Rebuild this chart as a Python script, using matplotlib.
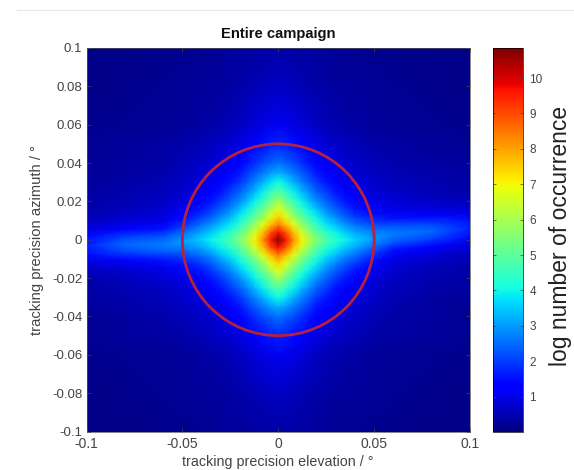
import numpy as np
import matplotlib
matplotlib.use("Agg")
import matplotlib.pyplot as plt
from matplotlib.patches import Circle
from matplotlib.lines import Line2D

plt.rcParams['font.family'] = ['Liberation Sans', 'DejaVu Sans']

title = "Entire campaign"
xlabel = "tracking precision elevation / °"
ylabel = "tracking precision azimuth / °"
cbar_label = "log number of occurrence"
xticks = [-0.1, -0.05, 0, 0.05, 0.1]
xticklabels = ["-0.1", "-0.05", "0", "0.05", "0.1"]
yticks = [-0.1, -0.08, -0.06, -0.04, -0.02, 0, 0.02, 0.04, 0.06, 0.08, 0.1]
yticklabels = ["-0.1", "-0.08", "-0.06", "-0.04", "-0.02", "0", "0.02", "0.04", "0.06", "0.08", "0.1"]
cbar_ticks = [1, 2, 3, 4, 5, 6, 7, 8, 9, 10]
circle_radius = 0.05
vmin, vmax = 0, 10.85

# distances from the centre at which the picture was read
offsets = [0, .004, .008, .012, .016, .02, .025, .03, .035, .04, .05, .06, .08, .1]
# log count, one quadrant: rows |azimuth|, columns |elevation|
row_00 = [10.85, 9.6, 8.2, 7.1, 6.2, 5.5, 4.8, 4.3, 3.95, 3.6, 3.0, 2.7, 2.5, 1.7]
row_01 = [9.7, 8.9, 7.65, 6.6, 5.7, 5.0, 4.4, 3.9, 3.5, 3.15, 2.6, 2.3, 2.05, 1.5]
row_02 = [8.4, 7.65, 6.7, 5.8, 5.05, 4.45, 3.85, 3.35, 2.9, 2.55, 1.95, 1.55, 1.3, .95]
row_03 = [7.5, 6.7, 5.8, 5.1, 4.45, 3.9, 3.3, 2.8, 2.35, 2.0, 1.45, 1.05, .85, .65]
row_04 = [6.7, 5.95, 5.15, 4.5, 3.9, 3.4, 2.8, 2.35, 1.95, 1.6, 1.15, .85, .65, .5]
row_05 = [5.9, 5.2, 4.55, 3.95, 3.4, 2.9, 2.4, 1.95, 1.6, 1.3, .95, .75, .55, .42]
row_06 = [4.9, 4.5, 3.9, 3.35, 2.85, 2.4, 2.0, 1.6, 1.35, 1.1, .8, .62, .48, .38]
row_07 = [4.1, 3.75, 3.25, 2.8, 2.35, 1.95, 1.6, 1.35, 1.1, .95, .7, .55, .42, .32]
row_08 = [3.2, 3.0, 2.65, 2.3, 1.95, 1.6, 1.35, 1.1, .95, .8, .6, .48, .36, .28]
row_09 = [2.6, 2.4, 2.2, 1.9, 1.6, 1.3, 1.1, .95, .8, .7, .52, .42, .32, .25]
row_10 = [1.7, 1.62, 1.48, 1.3, 1.1, .95, .8, .7, .6, .52, .42, .34, .27, .2]
row_11 = [1.1, 1.05, .95, .85, .75, .65, .55, .45, .4, .35, .28, .24, .18, .14]
row_12 = [.65, .62, .58, .52, .46, .4, .35, .3, .28, .26, .22, .18, .14, .11]
row_13 = [.4, .38, .36, .33, .3, .28, .26, .24, .2, .18, .16, .14, .11, .09]
quadrant = np.array([row_00, row_01, row_02, row_03, row_04, row_05, row_06,
                     row_07, row_08, row_09, row_10, row_11, row_12, row_13])
# the horizontal band is slightly tilted: its centre at each elevation
band_elevation = [-.1, -.08, -.06, -.05, -.04, 0, .04, .05, .06, .08, .1]
band_centre = [-.003, -.0025, -.0025, -.001, 0, 0, 0, .001, .003, .0045, .006]

o = np.array(offsets)
axis = np.concatenate([-o[:0:-1], o])
top = np.hstack([quadrant[:, :0:-1], quadrant])
Z = np.vstack([top[:0:-1], top])
X, Y = np.meshgrid(axis, axis)
near = np.abs(Y) <= 0.04
Y = Y + near * np.interp(X, band_elevation, band_centre)

fig = plt.figure(figsize=(5.74, 4.7), dpi=100)
W, H = 574, 470
ax = fig.add_axes([86.5 / W, (H - 431.5) / H, 383.5 / W, 383.5 / H])
mesh = ax.pcolormesh(X, Y, Z, cmap='jet', vmin=vmin, vmax=vmax, shading='gouraud', rasterized=True)
ax.add_patch(Circle((0, 0), circle_radius, fill=False, ec='#b8203f', lw=2.0))
ax.set_xlim(-0.1, 0.1)
ax.set_ylim(-0.1, 0.1)
ax.set_xticks(xticks, xticklabels)
ax.set_yticks(yticks, yticklabels)
gray = '#444444'
ax.tick_params(direction='in', length=3, width=0.5, colors=gray, top=True, right=True)
ax.tick_params(axis='x', labelsize=10, pad=4)
ax.tick_params(axis='y', labelsize=9.5, pad=3)
for s in ax.spines.values():
    s.set_linewidth(0.5)
    s.set_color('#555555')
ax.set_title(title, fontsize=10.6, fontweight='bold', pad=7, color='#111111')
ax.set_xlabel(xlabel, fontsize=10.3, color=gray, labelpad=2.5)
ax.set_ylabel(ylabel, fontsize=10.6, color=gray, labelpad=6)

cax = fig.add_axes([493 / W, (H - 432) / H, 30 / W, 384 / H])
cb = fig.colorbar(mesh, cax=cax, ticks=cbar_ticks)
cb.ax.tick_params(direction='in', length=2.5, width=0.5, labelsize=8.5, colors=gray, pad=4.5, left=True, right=True)
cb.outline.set_linewidth(0.5)
cb.set_label(cbar_label, fontsize=16.5, color='#222222', labelpad=5)
cb.ax.yaxis.label.set_y(0.51)

fig.add_artist(Line2D([0.03, 1], [1 - 10 / H, 1 - 10 / H], color='#e6e6e6', lw=0.8))
fig.savefig('out.png', dpi=100)
